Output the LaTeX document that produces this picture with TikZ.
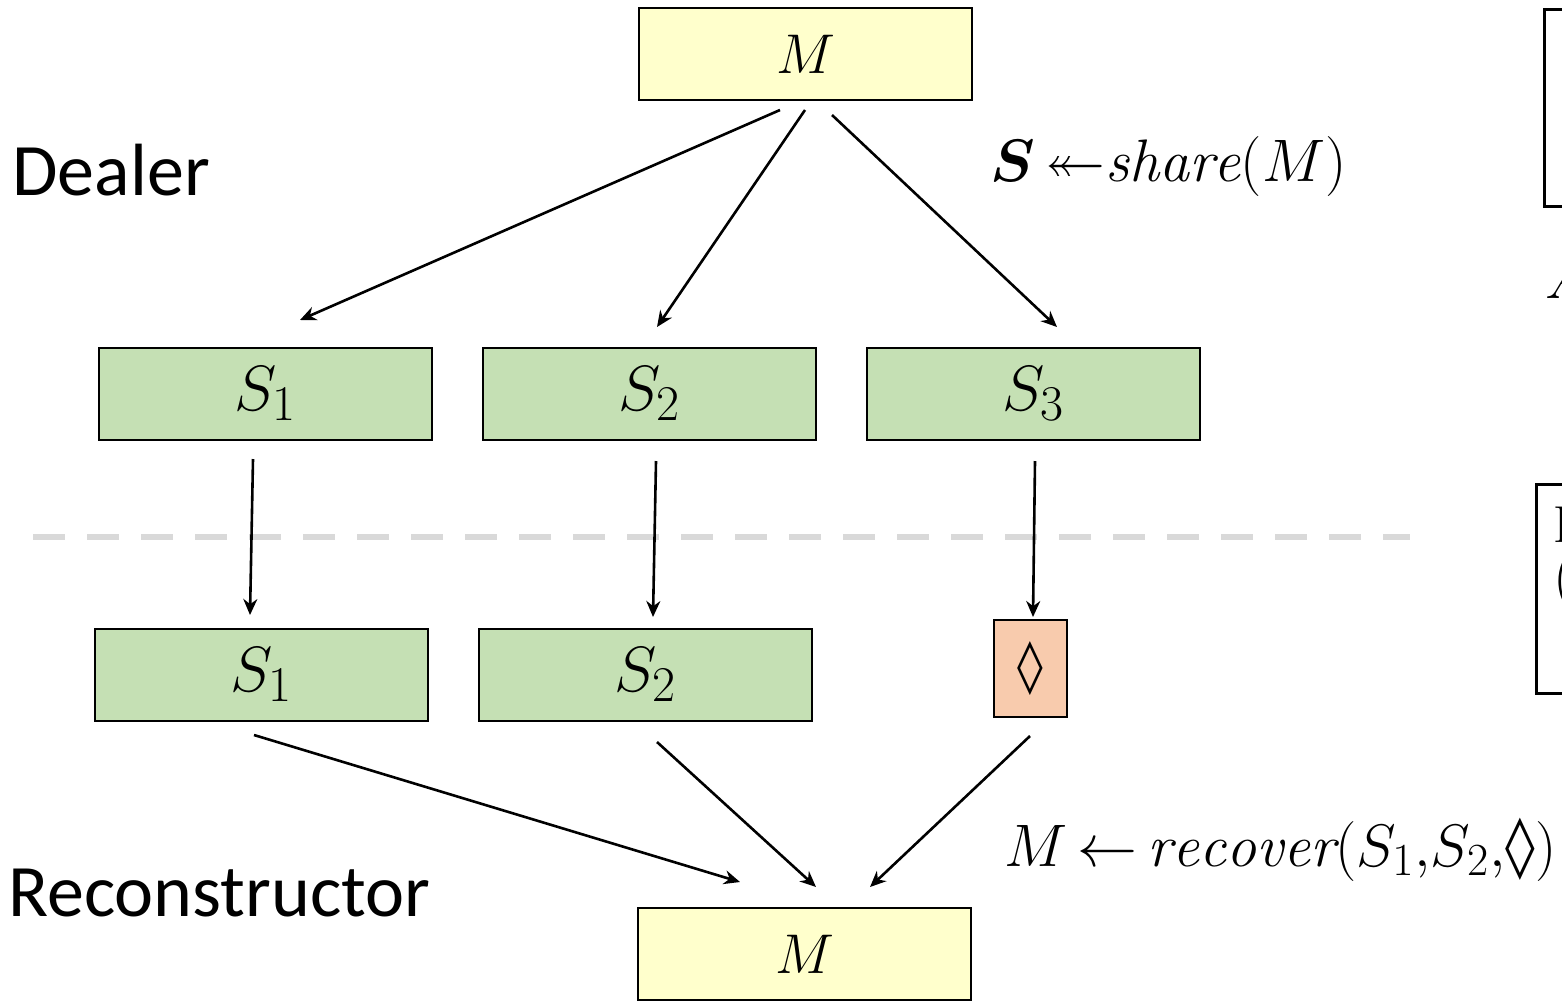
\RequirePackage{fix-cm}
\documentclass[tikz,border=0pt]{standalone}
\usepackage{amsmath}
\usepackage{amssymb}
\usepackage{fontspec}
\newfontfamily\labelfont{Carlito}
\newfontfamily\lozfont{DejaVu Sans}
\usetikzlibrary{arrows.meta}
% large subscripts for the big display sizes used below
\DeclareMathSizes{28}{28}{22}{17}
\DeclareMathSizes{30}{30}{23}{18}
\DeclareMathSizes{32}{32}{25}{19}
\newcommand{\loz}{\text{\lozfont\bfseries\char"25CA}}
\definecolor{msgfill}{RGB}{255,255,204}
\definecolor{sharefill}{RGB}{197,224,180}
\definecolor{lostfill}{RGB}{248,203,173}
\definecolor{sepgray}{RGB}{217,217,217}
\tikzset{
  box/.style={draw=black, line width=1.2pt, inner sep=0pt, font=\fontsize{32}{36}\selectfont},
  msgbox/.style={box, fill=msgfill, minimum width=166.5pt, minimum height=46pt, font=\fontsize{28}{32}\selectfont},
  sharebox/.style={box, fill=sharefill, minimum width=166.5pt, minimum height=46pt},
  lostbox/.style={box, fill=lostfill, minimum width=36.5pt, minimum height=48.5pt},
  flow/.style={line width=1.3pt, -{Stealth[length=8pt,width=7pt]}},
  rolelabel/.style={font=\labelfont\fontsize{37}{42}\selectfont, anchor=west, inner sep=0pt},
  eqlabel/.style={font=\fontsize{30}{36}\selectfont, inner sep=0pt},
  edgetext/.style={font=\fontsize{30}{36}\selectfont, anchor=west, inner sep=0pt},
}
\begin{document}
\begin{tikzpicture}[x=0.5pt, y=-0.5pt]
\useasboundingbox (0,0) rectangle (1562,1002);

% message and shares
\node[msgbox] (mtop) at (805.5,54) {$M$};
\node[sharebox] (s1) at (265.5,394) {$S_1$};
\node[sharebox] (s2) at (649.5,394) {$S_2$};
\node[sharebox] (s3) at (1033.5,394) {$S_3$};
\node[sharebox] (r1) at (261.5,675) {$S_1$};
\node[sharebox] (r2) at (645.5,675) {$S_2$};
\node[lostbox] (r3) at (1030.5,668.5) {\fontsize{26}{30}\selectfont$\loz$};
\node[msgbox] (mbot) at (804.5,954) {$M$};

% separator between dealer and reconstructor
\draw[sepgray, line width=3pt, dash pattern=on 16pt off 11pt] (33,537) -- (1410,537);

% role labels
\node[rolelabel] (dealer) at (12,170) {Dealer};
\node[rolelabel] (recon) at (8,893) {Reconstructor};

% formulas
\node[eqlabel, anchor=west] (sharef) at (990,166) {$\boldsymbol{S}\,{\twoheadleftarrow}\mathit{share}(M)$};
\node[eqlabel, anchor=west] (recf) at (1004,850) {$M\,{\leftarrow}\,\mathit{recover}(S_1{,}S_2{,}\loz)$};

% dealing
\coordinate (d1) at (780,110); \coordinate (e1) at (300,320);
\coordinate (d2) at (805,110); \coordinate (e2) at (657,327);
\coordinate (d3) at (832,115); \coordinate (e3) at (1057,327);
\draw[flow] (d1) -- (e1);
\draw[flow] (d2) -- (e2);
\draw[flow] (d3) -- (e3);

% transmission
\coordinate (t1) at (253,459); \coordinate (u1) at (250,615);
\coordinate (t2) at (656,461); \coordinate (u2) at (653,617);
\coordinate (t3) at (1035,461); \coordinate (u3) at (1033,617);
\draw[flow] (t1) -- (u1);
\draw[flow] (t2) -- (u2);
\draw[flow] (t3) -- (u3);

% reconstruction
\coordinate (g1) at (254,735); \coordinate (h1) at (740,882);
\coordinate (g2) at (657,742); \coordinate (h2) at (816,887);
\coordinate (g3) at (1030,736); \coordinate (h3) at (870,887);
\draw[flow] (g1) -- (h1);
\draw[flow] (g2) -- (h2);
\draw[flow] (g3) -- (h3);

% side notes at the right edge
\draw[line width=1.5pt] (1700,9) -- (1544,9) -- (1544,206) -- (1700,206);
\node[edgetext] (b1) at (1550,60) {\textbullet};
\node[edgetext] (b2) at (1550,145) {\textbullet};
\node[edgetext] (na) at (1545,278) {$A$};
\draw[line width=1.5pt] (1700,484) -- (1536,484) -- (1536,693) -- (1700,693);
\node[edgetext, font=\fontsize{26}{30}\selectfont] (ni) at (1553,525) {I};
\node[edgetext] (np) at (1553,582) {(};
\end{tikzpicture}
\end{document}
